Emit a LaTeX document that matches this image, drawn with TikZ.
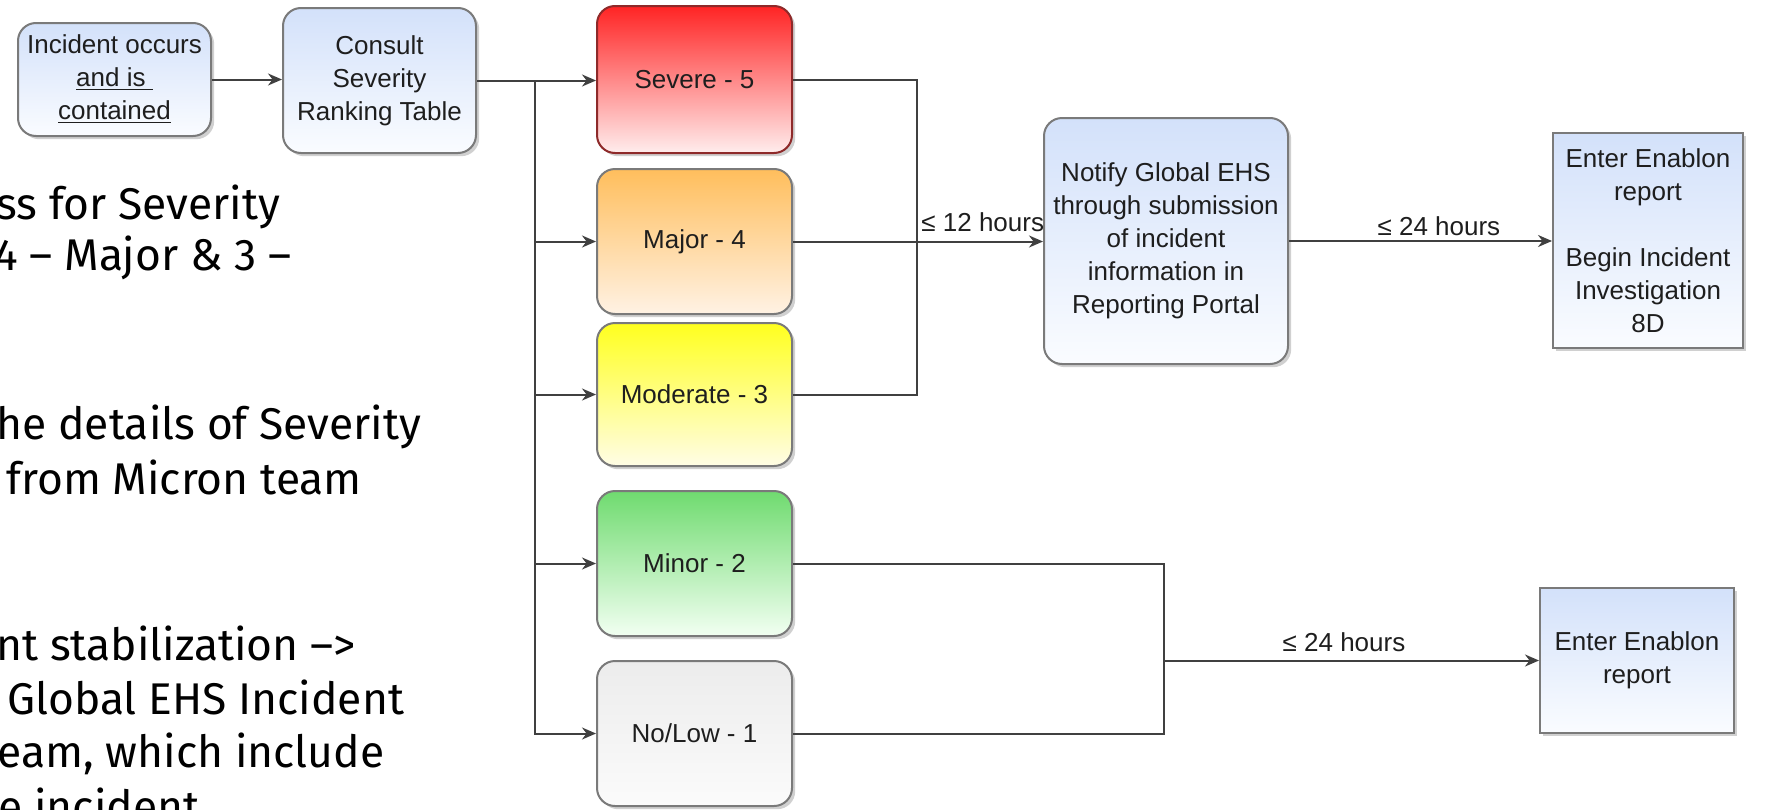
\documentclass[tikz,border=0pt]{standalone}
\usepackage{fontspec}
\setmainfont{Liberation Sans}
\newfontfamily\slidefont{Fira Sans}
\usetikzlibrary{shadows,arrows.meta}
\definecolor{linec}{HTML}{404040}
\definecolor{boxline}{HTML}{7A7A7A}
\definecolor{txt}{HTML}{1E1E1E}
\definecolor{bluetop}{HTML}{D3E1FA}
\definecolor{bluebot}{HTML}{FAFCFF}
\definecolor{redtop}{HTML}{FF2424}
\definecolor{redbot}{HTML}{FFEDED}
\definecolor{redline}{HTML}{8E2A2A}
\definecolor{orgtop}{HTML}{FFBE5C}
\definecolor{orgbot}{HTML}{FFF2E4}
\definecolor{yeltop}{HTML}{FFFF1E}
\definecolor{yelbot}{HTML}{FFFDE6}
\definecolor{grntop}{HTML}{6FDB6F}
\definecolor{grnbot}{HTML}{F2FFF2}
\definecolor{gratop}{HTML}{ECECEC}
\definecolor{grabot}{HTML}{FBFBFB}
\tikzset{
  basebox/.style={draw=boxline, line width=1pt, inner sep=0pt, align=center,
    text=txt, font=\fontsize{13pt}{16.5pt}\selectfont, anchor=north west,
    drop shadow={shadow xshift=1.6pt, shadow yshift=-1.6pt, opacity=0.3, fill=black!60}},
  rbox/.style={basebox, rounded corners=9pt},
  bluebox/.style={rbox, top color=bluetop, bottom color=bluebot},
  sqbox/.style={basebox, top color=bluetop, bottom color=bluebot},
  sevbox/.style={rbox, minimum width=97.5pt, minimum height=72.5pt},
  conn/.style={draw=linec, line width=1pt, -{Stealth[length=7pt,width=6pt]}},
  plain/.style={draw=linec, line width=1pt},
  lbl/.style={text=txt, font=\fontsize{13pt}{16pt}\selectfont, inner sep=1pt},
  slide/.style={anchor=base west, inner sep=0pt, text=black,
    font=\slidefont\fontsize{22.2pt}{26pt}\selectfont}
}
\begin{document}
\begin{tikzpicture}[x=0.5pt,y=-0.5pt]
\useasboundingbox[fill=white] (0,0) rectangle (1768,809);

% left slide text (cut off at the left edge, as in the slide)
\begin{scope}
\clip (0,0) rectangle (1768,809);
\node[slide] (t1) at (-4,219) {ss for Severity};
\node[slide] (t2) at (-6,270) {4 – Major \& 3 –};
\node[slide] (t3) at (-4,439) {he details of Severity};
\node[slide] (t4) at (6,494) {from Micron team};
\node[slide] (t5) at (-4,660) {nt stabilization –>};
\node[slide] (t6) at (7,714) {Global EHS Incident};
\node[slide] (t7) at (-3,767) {eam, which include};
\node[slide] (t8) at (-2,822) {e incident};
\end{scope}

% boxes
\node[bluebox, minimum width=96.5pt, minimum height=56.5pt] (inc) at (17,22)
  {Incident occurs\\\underline{and is\ }\\\underline{contained}};
\node[bluebox, minimum width=96.5pt, minimum height=72.5pt] (con) at (282,7)
  {Consult\\Severity\\Ranking Table};

\node[sevbox, draw=redline, top color=redtop, bottom color=redbot, minimum height=73.5pt] (sev) at (596,5) {Severe - 5};
\node[sevbox, top color=orgtop, bottom color=orgbot] (maj) at (596,168) {Major - 4};
\node[sevbox, top color=yeltop, bottom color=yelbot, minimum height=71.5pt] (mod) at (596,322) {Moderate - 3};
\node[sevbox, top color=grntop, bottom color=grnbot] (min) at (596,490) {Minor - 2};
\node[sevbox, top color=gratop, bottom color=grabot] (nol) at (596,660) {No/Low - 1};

\node[bluebox, minimum width=122pt, minimum height=123pt] (not) at (1043,117)
  {Notify Global EHS\\through submission\\of incident\\information in\\Reporting Portal};
\node[sqbox, minimum width=95pt, minimum height=107.5pt] (en1) at (1552,132)
  {Enter Enablon\\report\\[16.5pt]Begin Incident\\Investigation\\8D};
\node[sqbox, minimum width=97pt, minimum height=72.5pt] (en2) at (1539,587)
  {Enter Enablon\\report};

% junction coordinates
\coordinate (br) at (535,0);
\coordinate (mg) at (917,0);
\coordinate (mg2) at (1164,0);

% connectors
\draw[conn] (inc.east) -- (inc.east -| con.west);
\draw[conn] (con.east) -- (con.east -| sev.west);
\draw[conn] (br |- con.east) |- (nol.west);
\draw[conn] (br |- maj.west) -- (maj.west);
\draw[conn] (br |- mod.west) -- (mod.west);
\draw[conn] (br |- min.west) -- (min.west);

\draw[plain] (sev.east) -- (sev.east -| mg) -- (mod.east -| mg) -- (mod.east);
\draw[conn] (maj.east) -- (maj.east -| not.west);
\node[lbl, anchor=base west] (l12) at (919,231) {≤ 12 hours};

\draw[conn] (not.east) -- (not.east -| en1.west) node[lbl, pos=0.57, above=1pt] (l24a) {≤ 24 hours};

\draw[plain] (min.east) -- (min.east -| mg2) -- (nol.east -| mg2) -- (nol.east);
\draw[conn] (mg2 |- en2.west) -- (en2.west) node[lbl, pos=0.48, above=3pt] (l24b) {≤ 24 hours};
\end{tikzpicture}
\end{document}
